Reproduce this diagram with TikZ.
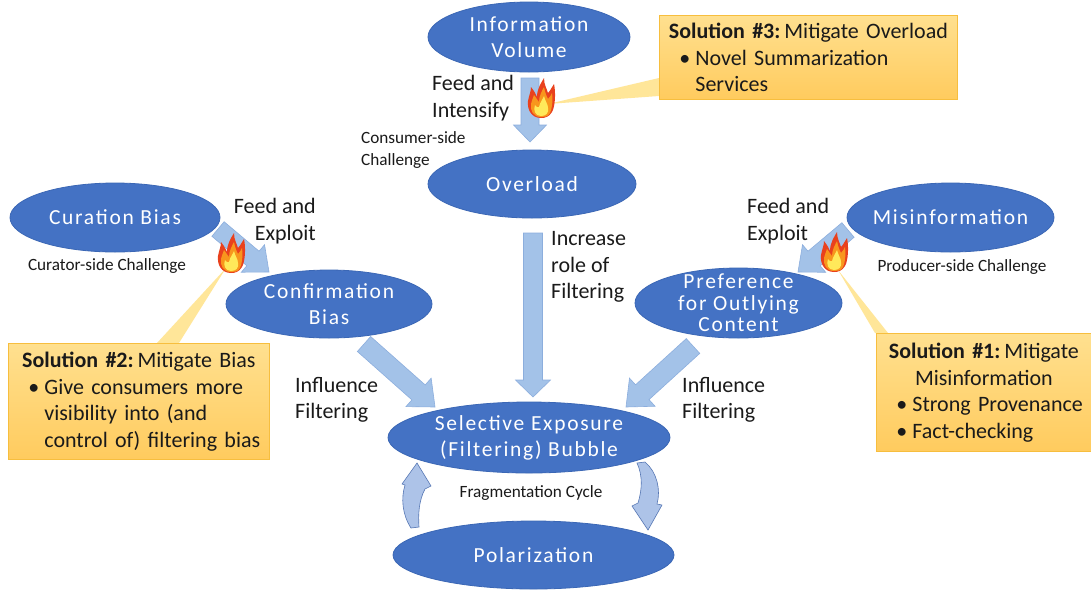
\documentclass[tikz,border=0pt]{standalone}
\usepackage{fontspec}
\setmainfont{Carlito}
\newfontfamily\ellfam[LetterSpace=8]{Carlito}
\usetikzlibrary{calc,shapes.geometric}
\definecolor{ellblue}{HTML}{4472C4}
\definecolor{ellborder}{HTML}{3B67B5}
\definecolor{arrfill}{HTML}{A3C2E8}
\definecolor{arrdraw}{HTML}{8CAEDD}
\definecolor{boxtop}{HTML}{FFE08F}
\definecolor{boxbot}{HTML}{FFCB5E}
\definecolor{boxdraw}{HTML}{F7BE3E}
\definecolor{pointerc}{HTML}{FFE699}
\definecolor{cycfill}{HTML}{ADC3E8}
\definecolor{cycdraw}{HTML}{5677B4}
\definecolor{fireout}{HTML}{E9411D}
\definecolor{firemid}{HTML}{F8961D}
\definecolor{fireinn}{HTML}{FFE95A}
\definecolor{txt}{HTML}{1A1A1A}
\newcommand\bigfont{\fontsize{22}{26.5}\selectfont}
\newcommand\smallfont{\fontsize{17.2}{21}\selectfont}
\newcommand\ellfont{\ellfam\fontsize{21.5}{26}\selectfont}
\newcommand\blockarrow[5]{%
  \coordinate (hb) at ($(#2)!#5!(#1)$);
  \filldraw[barrow] ($(#1)!#3!90:(#2)$) -- ($(hb)!#3!90:(#2)$) -- ($(hb)!#4!90:(#2)$) -- (#2)
    -- ($(hb)!#4!-90:(#2)$) -- ($(hb)!#3!-90:(#2)$) -- ($(#1)!#3!-90:(#2)$) -- cycle;
}
\tikzset{pics/fire/.style={code={
  \fill[fireout] (0,1) .. controls (-10,1) and (-14,-8) .. (-13,-16) .. controls (-12,-22) and (-10,-25) .. (-10,-30)
    .. controls (-6,-25) and (-5,-22) .. (-4,-20) .. controls (-4,-28) and (0,-34) .. (3,-39)
    .. controls (3,-32) and (6,-28) .. (7,-24) .. controls (9,-26) and (11,-30) .. (13,-33)
    .. controls (15,-24) and (14,-10) .. (11,-5) .. controls (8,0) and (4,1) .. (0,1) -- cycle;
  \fill[firemid] (0,0) .. controls (-8,0) and (-11,-7) .. (-10,-13) .. controls (-9,-17) and (-8,-19) .. (-7,-22)
    .. controls (-4,-18) and (-3,-16) .. (-2,-15) .. controls (-2,-21) and (1,-26) .. (3,-30)
    .. controls (4,-24) and (6,-20) .. (7,-18) .. controls (9,-20) and (10,-22) .. (11,-24)
    .. controls (12,-16) and (11,-8) .. (9,-4) .. controls (7,0) and (3,0) .. (0,0) -- cycle;
  \fill[fireinn] (0,-1) .. controls (-6,-1) and (-8,-7) .. (-6,-12) .. controls (-5,-10) and (-3,-9) .. (-2,-10)
    .. controls (-1,-15) and (2,-18) .. (3,-21) .. controls (4,-16) and (7,-13) .. (7,-9)
    .. controls (8,-4) and (5,-1) .. (0,-1) -- cycle;
}}}
\begin{document}
\begin{tikzpicture}[x=1pt,y=-1pt,
  ell/.style={ellipse, fill=ellblue, draw=ellborder, line width=0.8pt, inner sep=0pt, label={[etext]center:#1}},
  etext/.style={text=white, font=\ellfont, align=center, inner sep=0pt},
  big/.style={font=\bigfont, text=txt, inner sep=0pt},
  small/.style={font=\smallfont, text=txt, inner sep=0pt},
  barrow/.style={fill=arrfill, draw=arrdraw, line width=0.6pt, line join=miter},
  cyc/.style={fill=cycfill, draw=cycdraw, line width=0.6pt},
  solbox/.style={draw=boxdraw, line width=0.8pt, top color=boxtop, bottom color=boxbot, inner sep=0pt, align=left, font=\bigfont, text=txt, anchor=north west},
  pointer/.style={fill=pointerc},
]
\useasboundingbox (0,0) rectangle (1091,590);
\fill[white] (0,0) rectangle (1091,590);

% ellipses
\node[ell={Information\\Volume}, minimum width=202pt, minimum height=70pt] (iv) at (529,37) {};
\node[ell={Overload}, minimum width=208pt, minimum height=68pt] (ov) at (532,184) {};
\node[ell={Curation Bias}, minimum width=210pt, minimum height=69pt] (cb) at (115,217.5) {};
\node[ell={Misinformation}, minimum width=207pt, minimum height=69pt] (mi) at (950.5,217.5) {};
\node[ell={Confirmation\\Bias}, minimum width=206pt, minimum height=68pt] (cfb) at (329,304) {};
\node[ellipse, fill=ellblue, draw=ellborder, line width=0.8pt, inner sep=0pt, minimum width=207pt, minimum height=70pt,
  label={[etext, font=\ellfam\fontsize{21.5}{21.5}\selectfont]center:Preference\\for Outlying\\Content}] (pr) at (738.5,303) {};
\node[ell={Selective Exposure\\(Filtering) Bubble}, minimum width=282pt, minimum height=71pt] (se) at (529,437.5) {};
\node[ell={Polarization}, minimum width=281pt, minimum height=68pt] (po) at (533.5,555) {};

% block arrows
\coordinate (a1s) at (530,78);  \coordinate (a1e) at (530,142);
\coordinate (a2s) at (533,233); \coordinate (a2e) at (533,397);
\coordinate (a3s) at (218,229); \coordinate (a3e) at (269,272);
\coordinate (a4s) at (848,230); \coordinate (a4e) at (798,272);
\coordinate (a5s) at (364,344); \coordinate (a5e) at (435,407);
\coordinate (a6s) at (693,346); \coordinate (a6e) at (626,407);
\blockarrow{a1s}{a1e}{9pt}{16.5pt}{17pt}
\blockarrow{a2s}{a2e}{9.5pt}{17.5pt}{17pt}
\blockarrow{a3s}{a3e}{9.5pt}{18pt}{21pt}
\blockarrow{a4s}{a4e}{9.5pt}{18pt}{21pt}
\blockarrow{a5s}{a5e}{10pt}{19pt}{22pt}
\blockarrow{a6s}{a6e}{10pt}{19pt}{22pt}

% cycle arrows (Polarization -> Selective Exposure, Selective Exposure -> Polarization)
\filldraw[cyc] (411,528) .. controls (402,514) and (401,498) .. (405,485) -- (402,484) -- (417,463) -- (431,486) -- (425,489)
  .. controls (419,500) and (418,514) .. (419,527) -- cycle;
\filldraw[cyc] (645,462) .. controls (657,472) and (661,490) .. (657,504) -- (662,505) -- (648,530) -- (632,506) -- (638,503)
  .. controls (642,490) and (643,476) .. (637,463) -- cycle;

% pointers
\fill[pointer] (548,104) -- (659,78) -- (659,96) -- cycle;
\fill[pointer] (226,268) -- (157,343) -- (179,343) -- cycle;
\fill[pointer] (838,270) -- (875,333) -- (888,333) -- cycle;

% solution boxes
\node[solbox, minimum width=298pt, minimum height=84pt, text width=298pt] (s3) at (659,15)
  {\makebox[298pt]{\textbf{Solution \#3:}\hspace{4pt}Mitigate Overload}\\
   \hspace*{20pt}\makebox[16pt][l]{\textbullet}Novel Summarization\\
   \hspace*{36pt}Services};
\node[solbox, minimum width=261pt, minimum height=116pt, text width=261pt] (s2) at (8,343)
  {\makebox[261pt]{\textbf{Solution \#2:}\hspace{4pt}Mitigate Bias}\\
   \hspace*{20pt}\makebox[16pt][l]{\textbullet}Give consumers more\\
   \hspace*{36pt}visibility into (and\\
   \hspace*{36pt}control of) filtering bias};
\node[solbox, minimum width=215pt, minimum height=118pt, text width=215pt] (s1) at (876,333)
  {\makebox[215pt]{\textbf{Solution \#1:}\hspace{4pt}Mitigate}\\
   \makebox[215pt]{Misinformation}\\
   \hspace*{20pt}\makebox[16pt][l]{\textbullet}Strong Provenance\\
   \hspace*{20pt}\makebox[16pt][l]{\textbullet}Fact-checking};

% fires
\pic (f3) at (541,117) {fire};
\pic (f2) at (231,272) {fire};
\pic (f1) at (834,271) {fire};

% texts
\node[big, align=left, anchor=west] (fi) at (432,98) {Feed and\\Intensify};
\node[small, align=left, anchor=west] (cs) at (361,150) {Consumer-side\\Challenge};
\node[big, align=right, anchor=east] (fe1) at (316,221) {Feed and\\Exploit};
\node[small] (cur) at (107,266) {Curator-side Challenge};
\node[big, align=left, anchor=west] (fe2) at (747,221) {Feed and\\Exploit};
\node[small] (prod) at (962,267) {Producer-side Challenge};
\node[big, align=left, anchor=west] (inc) at (551,267) {Increase\\role of\\Filtering};
\node[big, align=left, anchor=west] (inf1) at (295,400) {Influence\\Filtering};
\node[big, align=left, anchor=west] (inf2) at (682,400) {Influence\\Filtering};
\node[small] (frag) at (531,493) {Fragmentation Cycle};
\end{tikzpicture}
\end{document}
